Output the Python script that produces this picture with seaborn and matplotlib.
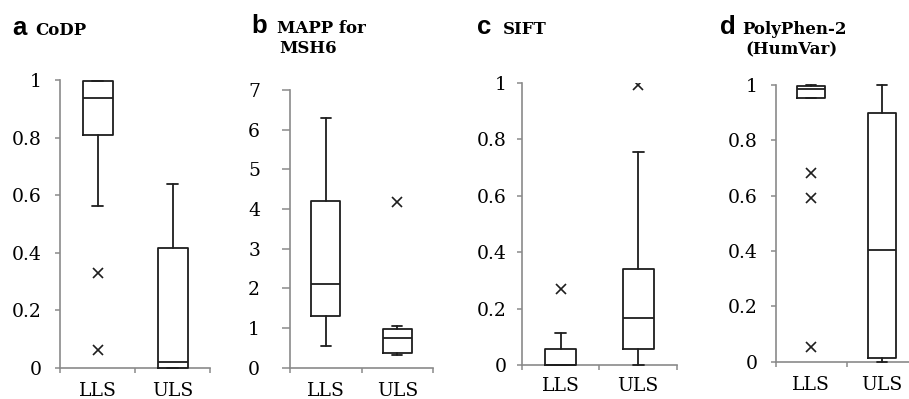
import matplotlib
matplotlib.use('Agg')
import matplotlib.pyplot as plt
import seaborn as sns

groups = ['LLS', 'ULS']

# box statistics, one value per group [LLS, ULS]
codp_q1 = [0.81, 0.0]
codp_med = [0.938, 0.022]
codp_q3 = [0.995, 0.418]
codp_lo = [0.562, 0.0]
codp_hi = [0.995, 0.639]
codp_out = [[0.33, 0.062], []]

mapp_q1 = [1.30, 0.36]
mapp_med = [2.11, 0.76]
mapp_q3 = [4.20, 0.97]
mapp_lo = [0.55, 0.32]
mapp_hi = [6.30, 1.06]
mapp_out = [[], [4.17]]

sift_q1 = [0.0, 0.056]
sift_med = [0.0, 0.168]
sift_q3 = [0.055, 0.339]
sift_lo = [0.0, 0.0]
sift_hi = [0.112, 0.753]
sift_out = [[0.268], [0.992]]

pph_q1 = [0.954, 0.012]
pph_med = [0.985, 0.404]
pph_q3 = [0.997, 0.90]
pph_lo = [0.954, 0.0]
pph_hi = [1.0, 1.0]
pph_out = [[0.681, 0.593, 0.054], []]

unit_ticks = [0, 0.2, 0.4, 0.6, 0.8, 1]
unit_labels = ['0', '0.2', '0.4', '0.6', '0.8', '1']
mapp_ticks = [0, 1, 2, 3, 4, 5, 6, 7]
mapp_labels = ['0', '1', '2', '3', '4', '5', '6', '7']

sns.set_theme(style='white')
plt.rcParams['font.family'] = ['DejaVu Serif']
plt.rcParams['text.color'] = 'black'

W, H = 909, 399
fig = plt.figure(figsize=(W / 100, H / 100), dpi=100)
fig.patch.set_facecolor('white')

AXIS = '#8a8a8a'
INK = '#1e1e1e'
PT = 0.72  # points per pixel at 100 dpi


def make_stats(q1, med, q3, lo, hi, out):
    stats = []
    for i, g in enumerate(groups):
        stats.append(dict(label=g, q1=q1[i], med=med[i], q3=q3[i],
                          whislo=lo[i], whishi=hi[i], fliers=out[i]))
    return stats


def panel(box, stats, ticks, labels, top, ypad, xpad, ytick_len=5):
    # box and pads given in pixels of the 909x399 picture
    left, upper, right, lower = box
    ax = fig.add_axes([left / W, 1 - lower / H, (right - left) / W, (lower - upper) / H])
    line = dict(color=INK, linewidth=1.3, clip_on=False)
    ax.bxp(stats, positions=[0, 1], widths=0.4, capwidths=0.14, zorder=3,
           boxprops=line, medianprops=line, whiskerprops=line, capprops=line,
           flierprops=dict(marker='x', markeredgecolor=INK, markersize=7,
                           markeredgewidth=1.2, linestyle='none'))
    ax.set_xlim(-0.5, 1.5)
    ax.set_ylim(0, top)
    ax.set_facecolor('white')
    for s in ['top', 'right']:
        ax.spines[s].set_visible(False)
    for s in ['left', 'bottom']:
        ax.spines[s].set_color(AXIS)
        ax.spines[s].set_linewidth(1.2)
    ax.set_yticks(ticks, labels)
    ax.set_xticks([0, 1], groups)
    ax.set_xticks([-0.5, 0.5, 1.5], minor=True)
    ax.tick_params(axis='y', which='major', left=True, length=ytick_len * PT, width=1.1,
                   color=AXIS, direction='out', pad=ypad * PT, labelsize=13.5,
                   labelcolor='black')
    ax.tick_params(axis='x', which='major', bottom=True, length=0, pad=xpad * PT,
                   labelsize=13.5, labelcolor='black')
    ax.tick_params(axis='x', which='minor', bottom=True, length=5 * PT, width=1.1,
                   color=AXIS, direction='out')
    ax.grid(False)
    return ax


panel((60, 80, 210, 368), make_stats(codp_q1, codp_med, codp_q3, codp_lo, codp_hi, codp_out),
      unit_ticks, unit_labels, 1, 13, 14)
panel((290, 90, 433, 367.7), make_stats(mapp_q1, mapp_med, mapp_q3, mapp_lo, mapp_hi, mapp_out),
      mapp_ticks, mapp_labels, 7, 22, 14, ytick_len=8)
panel((521.7, 82.7, 677, 365), make_stats(sift_q1, sift_med, sift_q3, sift_lo, sift_hi, sift_out),
      unit_ticks, unit_labels, 1, 10, 12)
panel((775.7, 85, 917.7, 361.7), make_stats(pph_q1, pph_med, pph_q3, pph_lo, pph_hi, pph_out),
      unit_ticks, unit_labels, 1, 13, 14)


def title(x, y, letter, lines, tx, dy=20):
    fig.text(x / W, 1 - y / H, letter, family=['Liberation Sans', 'DejaVu Sans'],
             fontweight='bold', fontsize=18.5, va='baseline', ha='left', color='black')
    for i, (t, off) in enumerate(lines):
        fig.text((tx + off) / W, 1 - (y + i * dy) / H, t, fontweight='bold',
                 fontsize=12, va='baseline', ha='left', color='black')


title(12, 35, 'a', [('CoDP', 0)], 35)
title(251, 33, 'b', [('MAPP for', 0), ('MSH6', 2)], 277)
title(477, 34, 'c', [('SIFT', 0)], 503)
title(720, 34, 'd', [('PolyPhen-2', 0), ('(HumVar)', 3)], 742)

fig.savefig('out.png', dpi=100, facecolor='white')
